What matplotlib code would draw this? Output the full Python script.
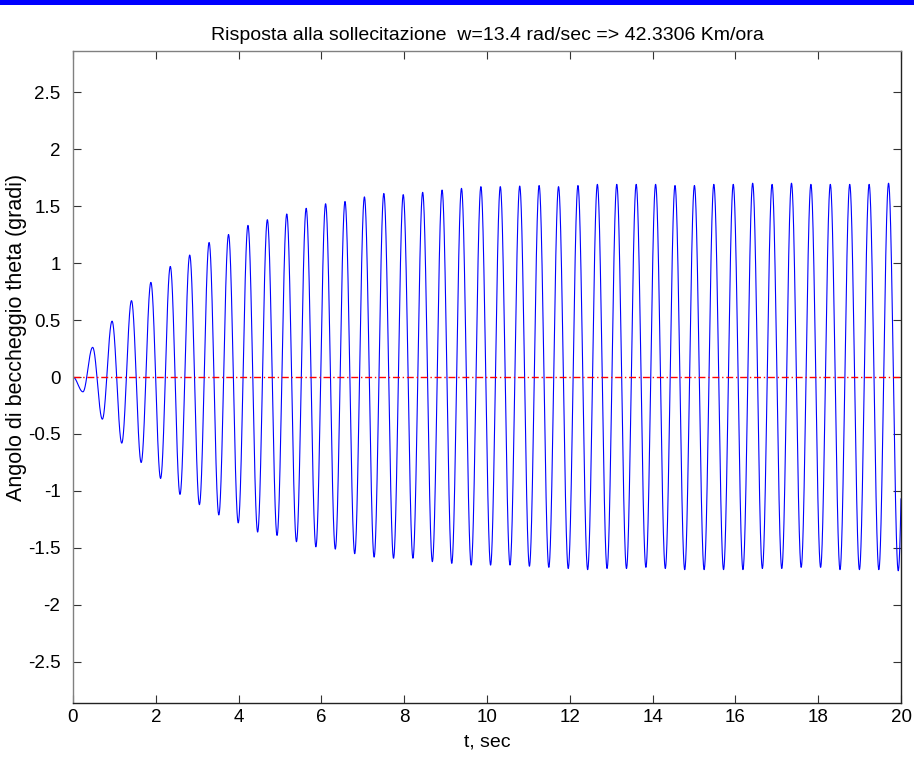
import numpy as np
import matplotlib
matplotlib.use("Agg")
import matplotlib.pyplot as plt
from matplotlib.patches import Rectangle

# Forcing frequency (rad/s) and the speed it corresponds to
omega = 13.4
speed_kmh = 42.3306

# Successive negative peaks (troughs) of the pitch angle, degrees
trough_vals = [-0.13, -0.37, -0.58, -0.75, -0.89, -1.03, -1.12, -1.21, -1.28, -1.36,
               -1.39, -1.445, -1.49, -1.51, -1.55, -1.58, -1.59, -1.59, -1.62, -1.635,
               -1.65, -1.65, -1.65, -1.66, -1.67, -1.68, -1.69, -1.68, -1.68, -1.67,
               -1.68, -1.69, -1.69, -1.69, -1.69, -1.68, -1.68, -1.67, -1.67, -1.69,
               -1.69, -1.69, -1.70]
# Successive positive peaks, degrees
peak_vals = [0.26, 0.49, 0.67, 0.83, 0.97, 1.07, 1.18, 1.25, 1.33, 1.38,
             1.43, 1.48, 1.52, 1.54, 1.58, 1.61, 1.60, 1.62, 1.64, 1.655,
             1.67, 1.67, 1.675, 1.68, 1.67, 1.68, 1.69, 1.69, 1.69, 1.69,
             1.68, 1.68, 1.69, 1.69, 1.70, 1.69, 1.70, 1.69, 1.69, 1.69,
             1.69, 1.70, 1.70]
first_trough_t = 0.24   # time of the first trough, s
t_end = 20.0

x_ticks = [0, 2, 4, 6, 8, 10, 12, 14, 16, 18, 20]
y_ticks = [-2.5, -2, -1.5, -1, -0.5, 0, 0.5, 1, 1.5, 2, 2.5]
y_tick_labels = ["-2.5", "-2", "-1.5", "-1", "-0.5", "0", "0.5", "1", "1.5", "2", "2.5"]

# Extremum sequence: start at rest, then trough/peak alternating every half period
half_period = np.pi / omega
ext_t = [0.0]
ext_v = [0.0]
for k in range(len(trough_vals)):
    ext_t.append(first_trough_t + 2 * k * half_period)
    ext_v.append(trough_vals[k])
    if k < len(peak_vals):
        ext_t.append(first_trough_t + (2 * k + 1) * half_period)
        ext_v.append(peak_vals[k])
ext_t = np.array(ext_t)
ext_v = np.array(ext_v)

# Half-cosine arcs joining consecutive extrema
t = np.linspace(0, t_end, 8001)
idx = np.clip(np.searchsorted(ext_t, t, side="right") - 1, 0, len(ext_t) - 2)
t0, t1 = ext_t[idx], ext_t[idx + 1]
v0, v1 = ext_v[idx], ext_v[idx + 1]
frac = (t - t0) / (t1 - t0)
theta = v0 + (v1 - v0) * (1 - np.cos(np.pi * frac)) / 2

plt.rcParams["font.family"] = ["Liberation Sans", "DejaVu Sans"]

fig = plt.figure(figsize=(9.14, 7.61), dpi=100)
fig.patches.append(Rectangle((0, 1 - 5 / 761), 1, 5 / 761, transform=fig.transFigure,
                             facecolor="#0000ff", edgecolor="none"))

ax = fig.add_axes([73 / 914, 1 - 703 / 761, 828 / 914, 652 / 761])
ax.plot(t, theta, color="#0000ff", lw=0.8)
ax.plot([0, t_end], [0, 0], color="#ff0000", lw=1.0, ls=(0, (5, 2, 1, 2)))

ax.set_xlim(0, t_end)
ax.set_ylim(-2.86, 2.86)
ax.set_xticks(x_ticks)
ax.set_xticklabels([str(v) for v in x_ticks])
ax.set_yticks(y_ticks)
ax.set_yticklabels(y_tick_labels)
ax.tick_params(direction="in", length=6, width=0.8, colors="#333333",
               labelcolor="black", labelsize=13.5, top=True, right=True)
ax.tick_params(axis="x", pad=4)
ax.tick_params(axis="y", pad=9)

for side, col in (("top", "#808080"), ("left", "#808080"),
                  ("right", "#222222"), ("bottom", "#222222")):
    ax.spines[side].set_color(col)
    ax.spines[side].set_linewidth(1.0)

ax.set_title(f"Risposta alla sollecitazione  w={omega} rad/sec => {speed_kmh} Km/ora",
             fontsize=14, pad=8)
ax.set_xlabel("t, sec", fontsize=14, labelpad=6)
ax.set_ylabel("Angolo di beccheggio theta (gradi)", fontsize=15.5)
ax.yaxis.set_label_coords(-0.055, 0.56)

fig.savefig("out.png", dpi=100)
